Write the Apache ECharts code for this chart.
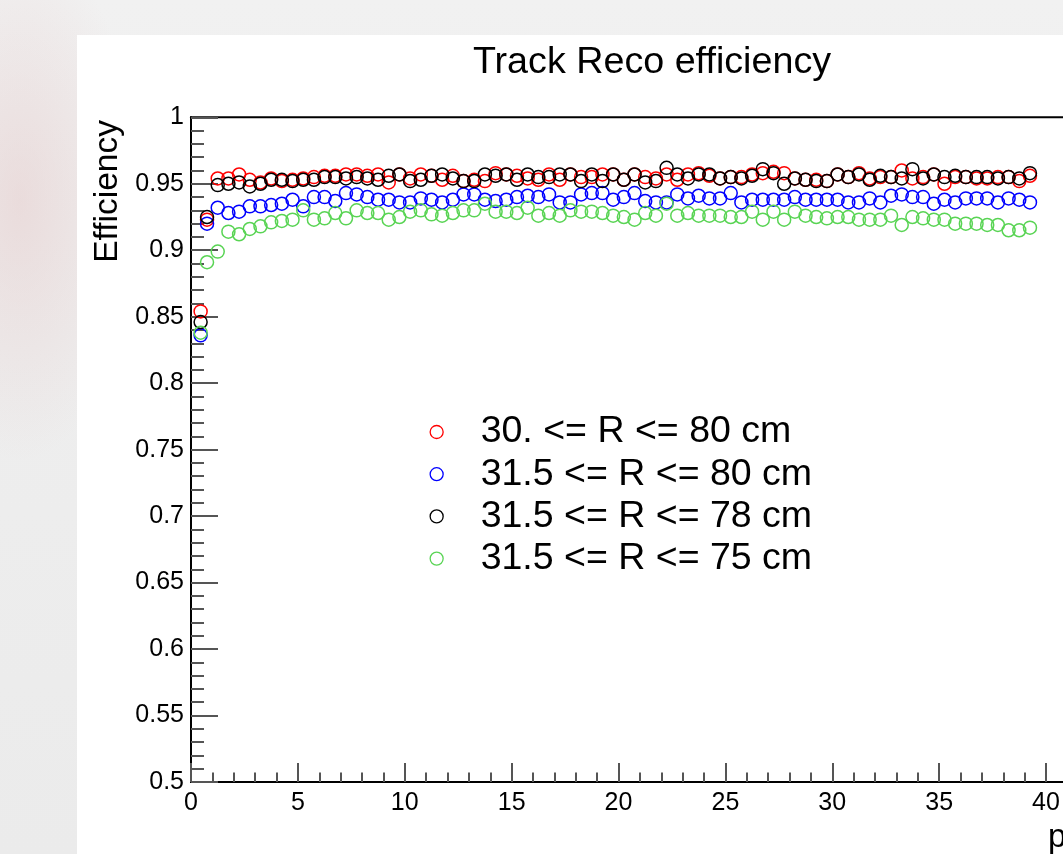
<!DOCTYPE html>
<html>
<head>
<meta charset="utf-8">
<script src="https://cdn.jsdelivr.net/npm/echarts@6/dist/echarts.min.js"></script>
<style>
  html, body { margin: 0; padding: 0; width: 1063px; height: 854px; overflow: hidden; }
  body {
    background:
      radial-gradient(ellipse 120px 260px at 20px 200px, rgba(228, 200, 200, 0.5), rgba(236, 236, 236, 0) 100%),
      linear-gradient(180deg, #f1f1f1 0%, #eeeeee 40%, #ebebeb 100%);
    position: relative;
  }
  #panel { position: absolute; left: 77px; top: 35px; width: 1150px; height: 819px; background: #ffffff; }
  #chart { width: 1150px; height: 819px; }
</style>
</head>
<body>
<div id="panel"><div id="chart"></div></div>
<script>
// pT bin centres (first bin is narrower)
const pT = [0.45, 0.75, 1.25, 1.75, 2.25, 2.75, 3.25, 3.75, 4.25, 4.75, 5.25, 5.75, 6.25, 6.75, 7.25, 7.75,
  8.25, 8.75, 9.25, 9.75, 10.25, 10.75, 11.25, 11.75, 12.25, 12.75, 13.25, 13.75, 14.25, 14.75, 15.25, 15.75,
  16.25, 16.75, 17.25, 17.75, 18.25, 18.75, 19.25, 19.75, 20.25, 20.75, 21.25, 21.75, 22.25, 22.75, 23.25, 23.75,
  24.25, 24.75, 25.25, 25.75, 26.25, 26.75, 27.25, 27.75, 28.25, 28.75, 29.25, 29.75, 30.25, 30.75, 31.25, 31.75,
  32.25, 32.75, 33.25, 33.75, 34.25, 34.75, 35.25, 35.75, 36.25, 36.75, 37.25, 37.75, 38.25, 38.75, 39.25];

// 30. <= R <= 80 cm
const effR30to80 = [0.854, 0.923, 0.954, 0.954, 0.957, 0.953, 0.951, 0.954, 0.952, 0.953, 0.954, 0.955, 0.956, 0.956, 0.957, 0.957,
  0.956, 0.957, 0.951, 0.957, 0.954, 0.957, 0.956, 0.953, 0.956, 0.952, 0.953, 0.952, 0.958, 0.957, 0.956, 0.954,
  0.953, 0.957, 0.953, 0.957, 0.955, 0.955, 0.957, 0.957, 0.953, 0.957, 0.955, 0.954, 0.957, 0.953, 0.957, 0.958,
  0.956, 0.954, 0.955, 0.955, 0.957, 0.958, 0.959, 0.958, 0.954, 0.953, 0.953, 0.952, 0.957, 0.955, 0.958, 0.954,
  0.955, 0.955, 0.960, 0.954, 0.955, 0.957, 0.950, 0.955, 0.955, 0.954, 0.954, 0.955, 0.955, 0.952, 0.956];

// 31.5 <= R <= 80 cm
const effR315to80 = [0.836, 0.920, 0.932, 0.928, 0.929, 0.933, 0.933, 0.934, 0.935, 0.938, 0.933, 0.940, 0.940, 0.937, 0.943, 0.942,
  0.940, 0.938, 0.938, 0.936, 0.936, 0.939, 0.938, 0.936, 0.938, 0.942, 0.942, 0.938, 0.937, 0.938, 0.940, 0.941,
  0.940, 0.942, 0.936, 0.936, 0.942, 0.943, 0.943, 0.938, 0.940, 0.943, 0.937, 0.936, 0.936, 0.942, 0.939, 0.941,
  0.939, 0.939, 0.943, 0.936, 0.938, 0.938, 0.938, 0.938, 0.940, 0.938, 0.938, 0.938, 0.938, 0.936, 0.936, 0.939,
  0.936, 0.941, 0.942, 0.940, 0.940, 0.935, 0.938, 0.936, 0.939, 0.939, 0.939, 0.936, 0.939, 0.938, 0.936];

// 31.5 <= R <= 78 cm
const effR315to78 = [0.846, 0.925, 0.949, 0.950, 0.951, 0.948, 0.950, 0.953, 0.953, 0.952, 0.953, 0.953, 0.955, 0.955, 0.954, 0.955,
  0.954, 0.953, 0.956, 0.957, 0.952, 0.953, 0.956, 0.957, 0.954, 0.952, 0.952, 0.957, 0.956, 0.957, 0.953, 0.957,
  0.955, 0.955, 0.957, 0.957, 0.952, 0.957, 0.952, 0.957, 0.953, 0.957, 0.951, 0.952, 0.962, 0.957, 0.954, 0.957,
  0.957, 0.954, 0.955, 0.954, 0.956, 0.961, 0.958, 0.950, 0.954, 0.953, 0.952, 0.952, 0.957, 0.955, 0.957, 0.953,
  0.956, 0.955, 0.954, 0.961, 0.954, 0.957, 0.955, 0.956, 0.955, 0.955, 0.955, 0.954, 0.955, 0.954, 0.958];

// 31.5 <= R <= 75 cm
const effR315to75 = [0.838, 0.891, 0.899, 0.914, 0.912, 0.916, 0.918, 0.921, 0.922, 0.923, 0.930, 0.923, 0.924, 0.928, 0.924, 0.930,
  0.928, 0.928, 0.923, 0.925, 0.929, 0.930, 0.927, 0.926, 0.928, 0.930, 0.930, 0.935, 0.929, 0.929, 0.928, 0.932,
  0.926, 0.928, 0.926, 0.930, 0.929, 0.929, 0.928, 0.926, 0.925, 0.923, 0.928, 0.926, 0.935, 0.926, 0.928, 0.926,
  0.926, 0.926, 0.925, 0.925, 0.929, 0.923, 0.929, 0.923, 0.929, 0.926, 0.925, 0.924, 0.925, 0.925, 0.923, 0.923,
  0.923, 0.926, 0.919, 0.925, 0.924, 0.923, 0.923, 0.920, 0.920, 0.920, 0.919, 0.919, 0.915, 0.915, 0.917];

const seriesNames = ['30. <= R <= 80 cm', '31.5 <= R <= 80 cm', '31.5 <= R <= 78 cm', '31.5 <= R <= 75 cm'];
const seriesColors = ['#ff0000', '#0000ff', '#000000', '#59d454'];
const seriesValues = [effR30to80, effR315to80, effR315to78, effR315to75];

const FONT = '"Liberation Sans", Arial, Helvetica, sans-serif';

const chart = echarts.init(document.getElementById('chart'), null, { renderer: 'canvas' });

const series = seriesNames.map((name, s) => ({
  name: name,
  type: 'scatter',
  symbol: 'circle',
  symbolSize: 13,
  itemStyle: { color: 'transparent', borderColor: seriesColors[s], borderWidth: 1.5, opacity: 1 },
  emphasis: { disabled: true },
  data: pT.map((x, i) => [x, seriesValues[s][i]])
}));

chart.setOption({
  animation: false,
  backgroundColor: '#ffffff',
  title: {
    text: 'Track Reco efficiency',
    left: 'center',
    top: 9,
    padding: 0,
    textStyle: { fontFamily: FONT, fontSize: 37.7, fontWeight: 'normal', color: '#000' }
  },
  legend: {
    orient: 'vertical',
    left: 352.5,
    top: 378,
    padding: 0,
    itemWidth: 78,
    itemHeight: 13,
    itemGap: 4.2,
    selectedMode: false,
    textStyle: { fontFamily: FONT, fontSize: 37.5, color: '#000' },
    data: seriesNames.map((n, s) => ({
      name: n,
      icon: 'circle',
      itemStyle: { color: 'transparent', borderColor: seriesColors[s], borderWidth: 1.3 }
    }))
  },
  grid: {
    left: 114,
    top: 82.3,
    width: 45 * 21.375,
    height: 664.7,
    show: true,
    borderColor: '#000',
    borderWidth: 2,
    backgroundColor: 'transparent'
  },
  xAxis: {
    type: 'value',
    min: 0,
    max: 45,
    interval: 5,
    axisLine: { show: true, onZero: false, lineStyle: { color: '#000', width: 2 } },
    axisTick: { show: true, inside: true, length: 19, lineStyle: { color: '#555', width: 2 } },
    minorTick: { show: true, splitNumber: 5, length: 9.5, lineStyle: { color: '#555', width: 2 } },
    splitLine: { show: false },
    axisLabel: { margin: 9, fontFamily: FONT, fontSize: 25, color: '#000', showMaxLabel: false }
  },
  yAxis: {
    type: 'value',
    min: 0.5,
    max: 1,
    interval: 0.05,
    axisLine: { show: true, onZero: false, lineStyle: { color: '#000', width: 2 } },
    axisTick: { show: true, inside: true, length: 27, lineStyle: { color: '#555', width: 2 } },
    minorTick: { show: true, splitNumber: 5, length: 13, lineStyle: { color: '#555', width: 2 } },
    splitLine: { show: false },
    axisLabel: { margin: 7, fontFamily: FONT, fontSize: 25, color: '#000' }
  },
  graphic: [
    {
      type: 'text',
      x: 31,
      y: 85,
      rotation: Math.PI / 2,
      style: {
        text: 'Efficiency',
        font: '33.5px ' + FONT,
        fill: '#000',
        align: 'right',
        verticalAlign: 'middle'
      }
    },
    {
      type: 'text',
      x: 971,
      y: 820,
      style: {
        text: '{p|p}{s|T} {p|(GeV/c)}',
        rich: {
          p: { font: '33px ' + FONT, fill: '#000' },
          s: { font: '22px ' + FONT, fill: '#000', padding: [12, 0, 0, 0] }
        },
        fill: '#000',
        verticalAlign: 'bottom'
      }
    }
  ],
  series: series
});
</script>
</body>
</html>
